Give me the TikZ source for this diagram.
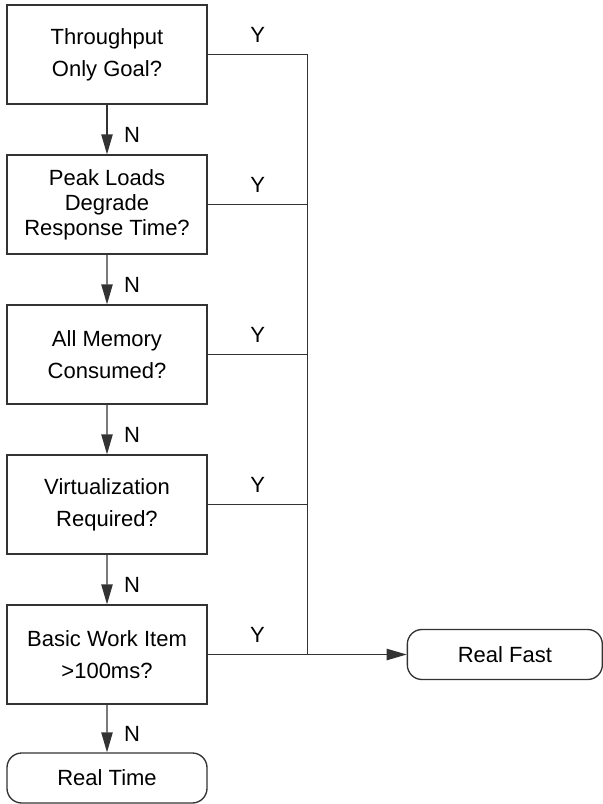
\documentclass[tikz,border=0pt]{standalone}
\usepackage{fontspec}
\setmainfont{Liberation Sans}
\usetikzlibrary{positioning,arrows.meta}
\tikzset{
  flownode/.style = {align=center, inner sep=0pt, text centered, font=\fontsize{16.5}{24}\selectfont},
  decision/.style = {flownode, rectangle, draw=black!80, line width=1pt, minimum width=150pt, minimum height=74.25pt},
  terminal/.style = {flownode, rectangle, rounded corners=11pt, draw=black!80, line width=1pt, minimum width=150pt, minimum height=37.5pt},
  answer/.style = {flownode, inner sep=0pt},
  flowline/.style = {draw=black!80, line width=1pt},
  flowarrow/.style = {flowline, -{Triangle[length=15pt,width=8.5pt]}},
}
\begin{document}
\begin{tikzpicture}[level distance=112.5pt, level 5/.style={level distance=92.625pt},
  edge from parent/.style={flowarrow}]
\useasboundingbox (0,0) rectangle (452.25pt,-603pt);
\node [decision] (goal) at (80.25pt,-40.875pt) {Throughput\\Only Goal?}
  child{ node [decision, font=\fontsize{16.5}{18.75}\selectfont] (peak) {Peak Loads\\Degrade\\Response Time?}
    child{ node [decision] (memory) {All Memory\\Consumed?}
      child{ node [decision] (virt) {Virtualization\\Required?}
        child{ node [decision] (work) {Basic Work Item\\>100ms?}
          child{ node [terminal] (rtime) {Real Time}
            edge from parent node [answer, xshift=18.75pt, yshift=-4pt] {N}
          }
          edge from parent node [answer, xshift=18.75pt, yshift=-4pt] {N}
        }
        edge from parent node [answer, xshift=18.75pt, yshift=-4pt] {N}
      }
      edge from parent node [answer, xshift=18.75pt, yshift=-4pt] {N}
    }
    edge from parent node [answer, xshift=18.75pt, yshift=-4pt] {N}
  }
;
% the Y branches all join one trunk on the right
\coordinate [right=75pt of goal.east] (trunk);
\draw [flowline] (goal.east) -- (trunk) node [answer, midway, yshift=15pt] {Y};
\draw [flowline] (peak.east) -- (peak.east -| trunk) node [answer, midway, yshift=15pt] {Y};
\draw [flowline] (memory.east) -- (memory.east -| trunk) node [answer, midway, yshift=15pt] {Y};
\draw [flowline] (virt.east) -- (virt.east -| trunk) node [answer, midway, yshift=15pt] {Y};
\draw [flowline] (trunk) -- (trunk |- work.east);
\node [terminal, minimum width=146.25pt, right=149.25pt of work] (rfast) {Real Fast};
\draw [flowarrow] (work.east) -- (rfast.west) node [answer, pos=0.25, yshift=15pt] {Y};
\end{tikzpicture}
\end{document}
